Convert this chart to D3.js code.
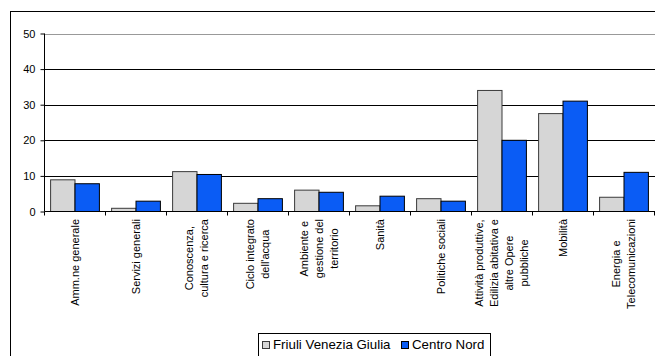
<!DOCTYPE html>
<html>
<head>
<meta charset="utf-8">
<script src="https://cdn.jsdelivr.net/npm/d3@7"></script>
<style>
  body { margin: 0; background: #fff; }
  text { font-family: "Liberation Sans", Arial, sans-serif; fill: #000; }
</style>
</head>
<body>
<div id="chart"></div>
<script>
// categories, one array of lines per label
var categories = [
  ["Amm.ne generale"],
  ["Servizi generali"],
  ["Conoscenza,", "cultura e ricerca"],
  ["Ciclo integrato", "dell'acqua"],
  ["Ambiente e", "gestione del", "territorio"],
  ["Sanità"],
  ["Politiche sociali"],
  ["Attività produttive,", "Edilizia abitativa e", "altre Opere", "pubbliche"],
  ["Mobilità"],
  ["Energia e", "Telecomunicazioni"]
];
var seriesNames = ["Friuli Venezia Giulia", "Centro Nord"];
var fvg = [8.9, 0.9, 11.2, 2.3, 6.0, 1.6, 3.6, 34.0, 27.5, 4.0];
var centroNord = [7.8, 2.9, 10.4, 3.6, 5.4, 4.3, 2.9, 20.0, 31.0, 11.0];
var yTicks = [0, 10, 20, 30, 40, 50];

var fills = ["#d6d6d6", "#0a5cf5"];
var strokes = ["#3a3a3a", "#000"];

var width = 655, height = 356;
var svg = d3.select("#chart").append("svg")
  .attr("width", width).attr("height", height);

// outer frame (runs off right and bottom)
svg.append("rect")
  .attr("x", 10.5).attr("y", 11.5)
  .attr("width", 700).attr("height", 400)
  .attr("fill", "none").attr("stroke", "#000");

var keys = categories.map(function(d, i){ return i; });

var xScale = d3.scaleBand()
  .domain(keys)
  .range([44.5, 654.5])
  .padding(0);

var xSub = d3.scaleBand()
  .domain([0, 1])
  .range([0, xScale.bandwidth()])
  .paddingInner(0)
  .paddingOuter(0.25);

var yScale = d3.scaleLinear()
  .domain([0, 50])
  .range([211.5, 33.5]);

// gridlines
svg.append("g").selectAll("line")
  .data(yTicks.filter(function(t){ return t > 0; }))
  .enter().append("line")
    .attr("x1", 44.5).attr("x2", 655)
    .attr("y1", function(d){ return Math.round(yScale(d)) + 0.5; })
    .attr("y2", function(d){ return Math.round(yScale(d)) + 0.5; })
    .attr("stroke", function(d){ return d == 50 ? "#999" : "#000"; })
    .attr("stroke-width", 1);

// y axis
var yAxis = svg.append("g")
  .attr("transform", "translate(44.5,0)")
  .call(d3.axisLeft(yScale).tickValues(yTicks).tickSize(4).tickPadding(5).tickFormat(d3.format("d")));
yAxis.select(".domain").attr("d", "M0," + yScale(50) + "V" + yScale(0));
yAxis.selectAll("text").style("font-size", "11px").style("font-family", "Liberation Sans, Arial, sans-serif");

// bars
var rows = keys.map(function(i){ return [fvg[i], centroNord[i]]; });
var groups = svg.append("g").selectAll("g")
  .data(rows)
  .enter().append("g")
    .attr("transform", function(d, i){ return "translate(" + xScale(i) + ",0)"; });

groups.selectAll("rect")
  .data(function(d){ return d; })
  .enter().append("rect")
    .attr("x", function(d, j){ return xSub(j); })
    .attr("y", function(d){ return yScale(d); })
    .attr("width", xSub.bandwidth())
    .attr("height", function(d){ return yScale(0) - yScale(d); })
    .attr("fill", function(d, j){ return fills[j]; })
    .attr("stroke", function(d, j){ return strokes[j]; })
    .attr("stroke-width", 1);

// x axis line and ticks at category boundaries
var xAxis = svg.append("g");
xAxis.append("line")
  .attr("x1", 44.5).attr("x2", 655)
  .attr("y1", yScale(0)).attr("y2", yScale(0))
  .attr("stroke", "#000");
xAxis.selectAll(".tick")
  .data(keys.concat([keys.length]))
  .enter().append("line")
    .attr("x1", function(i){ return i < keys.length ? xScale(i) : xScale(i - 1) + xScale.step(); })
    .attr("x2", function(i){ return i < keys.length ? xScale(i) : xScale(i - 1) + xScale.step(); })
    .attr("y1", yScale(0)).attr("y2", yScale(0) + 4)
    .attr("stroke", "#000");

// rotated multi-line category labels
var lineGap = 15;
var labelTop = 219;
keys.forEach(function(i){
  var lines = categories[i];
  var cx = xScale(i) + xScale.bandwidth() / 2;
  var g = svg.append("g")
    .attr("transform", "translate(" + cx + "," + labelTop + ") rotate(-90)");
  var texts = lines.map(function(s, k){
    return g.append("text")
      .attr("y", (k - (lines.length - 1) / 2) * lineGap)
      .attr("dy", "0.35em")
      .style("font-size", "11px")
      .attr("text-anchor", "middle")
      .text(s);
  });
  var maxW = d3.max(texts, function(t){ return t.node().getComputedTextLength(); });
  texts.forEach(function(t){ t.attr("x", -maxW / 2); });
});

// legend
var legend = svg.append("g").attr("transform", "translate(258.5,333.5)");
legend.append("rect")
  .attr("width", 232).attr("height", 40)
  .attr("fill", "#fff").attr("stroke", "#000");
var items = [
  { x: 4, name: seriesNames[0] },
  { x: 143, name: seriesNames[1] }
];
items.forEach(function(it, j){
  legend.append("rect")
    .attr("x", it.x).attr("y", 8)
    .attr("width", 7).attr("height", 7)
    .attr("fill", fills[j]).attr("stroke", strokes[j]);
  legend.append("text")
    .attr("x", it.x + 10.5).attr("y", 15)
    .style("font-size", "13.3px")
    .text(it.name);
});
</script>
</body>
</html>
